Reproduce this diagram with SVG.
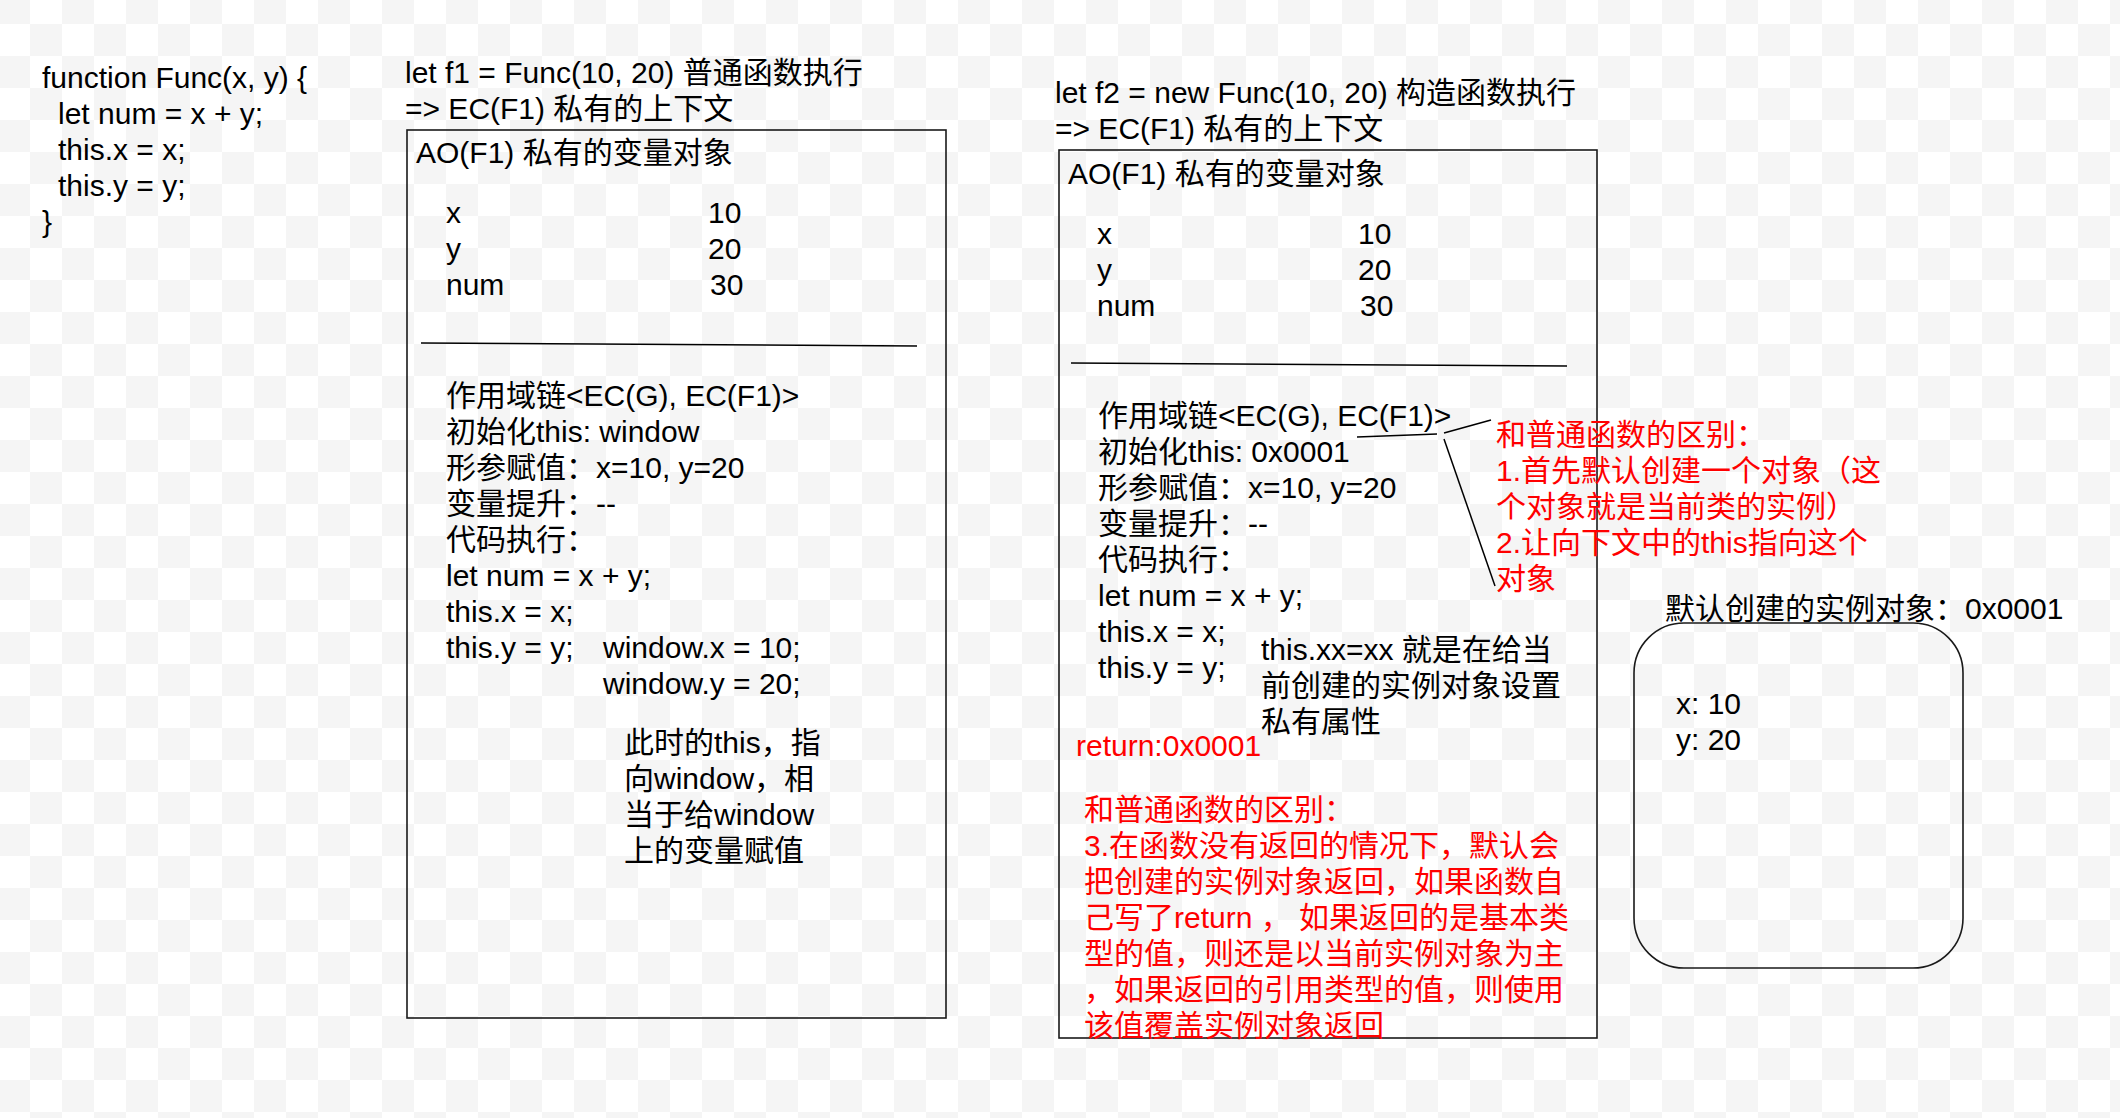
<svg xmlns="http://www.w3.org/2000/svg" width="2120" height="1118" viewBox="0 0 2120 1118">
<style>
  text { font-family: "Liberation Sans", "Noto Sans CJK SC", sans-serif; font-size: 30px; fill: #000; }
  .red { fill: #ff0000; }
  .box { fill: none; stroke: #1a1a1a; stroke-width: 1.6; }
  .ln { fill: none; stroke: #000; stroke-width: 1.5; }
</style>
<defs>
  <pattern id="chk" x="30" y="24" width="64" height="64" patternUnits="userSpaceOnUse">
    <rect width="64" height="64" fill="#ffffff"/>
    <rect width="32" height="32" fill="#f5f5f5"/>
    <rect x="32" y="32" width="32" height="32" fill="#f5f5f5"/>
  </pattern>
</defs>
<rect x="0" y="0" width="2120" height="1118" fill="url(#chk)"/>

<g id="code">
  <text x="42" y="88">function Func(x, y) {</text>
  <text x="58" y="124">let num = x + y;</text>
  <text x="58" y="160">this.x = x;</text>
  <text x="58" y="196">this.y = y;</text>
  <text x="42" y="232">}</text>
</g>

<g id="f1-title">
  <text x="405" y="83">let f1 = Func(10, 20) 普通函数执行</text>
  <text x="405" y="119">=&gt; EC(F1) 私有的上下文</text>
</g>

<g id="f1-box">
  <rect class="box" x="407" y="130" width="539" height="888"/>
  <text x="416" y="163">AO(F1) 私有的变量对象</text>
  <text x="446" y="223">x</text><text x="708" y="223">10</text>
  <text x="446" y="259">y</text><text x="708" y="259">20</text>
  <text x="446" y="295">num</text><text x="710" y="295">30</text>
  <line class="ln" x1="421" y1="343" x2="917" y2="346"/>
  <text x="446" y="406">作用域链&lt;EC(G), EC(F1)&gt;</text>
  <text x="446" y="442">初始化this: window</text>
  <text x="446" y="478">形参赋值：x=10, y=20</text>
  <text x="446" y="514">变量提升：--</text>
  <text x="446" y="550">代码执行：</text>
  <text x="446" y="586">let num = x + y;</text>
  <text x="446" y="622">this.x = x;</text>
  <text x="446" y="658">this.y = y;</text>
  <text x="603" y="658">window.x = 10;</text>
  <text x="603" y="694">window.y = 20;</text>
  <text x="624" y="753">此时的this，指</text>
  <text x="624" y="789">向window，相</text>
  <text x="624" y="825">当于给window</text>
  <text x="624" y="861">上的变量赋值</text>
</g>

<g id="f2-title">
  <text x="1055" y="103">let f2 = new Func(10, 20) 构造函数执行</text>
  <text x="1055" y="139">=&gt; EC(F1) 私有的上下文</text>
</g>

<g id="f2-box">
  <rect class="box" x="1059" y="150" width="538" height="888"/>
  <text x="1068" y="184">AO(F1) 私有的变量对象</text>
  <text x="1097" y="244">x</text><text x="1358" y="244">10</text>
  <text x="1097" y="280">y</text><text x="1358" y="280">20</text>
  <text x="1097" y="316">num</text><text x="1360" y="316">30</text>
  <line class="ln" x1="1071" y1="363" x2="1567" y2="366"/>
  <text x="1098" y="426">作用域链&lt;EC(G), EC(F1)&gt;</text>
  <text x="1098" y="462">初始化this: 0x0001</text>
  <text x="1098" y="498">形参赋值：x=10, y=20</text>
  <text x="1098" y="534">变量提升：--</text>
  <text x="1098" y="570">代码执行：</text>
  <text x="1098" y="606">let num = x + y;</text>
  <text x="1098" y="642">this.x = x;</text>
  <text x="1098" y="678">this.y = y;</text>
  <text x="1261" y="660">this.xx=xx 就是在给当</text>
  <text x="1261" y="696">前创建的实例对象设置</text>
  <text x="1261" y="732">私有属性</text>
  <text class="red" x="1076" y="756">return:0x0001</text>
  <text class="red" x="1084" y="820">和普通函数的区别：</text>
  <text class="red" x="1084" y="856">3.在函数没有返回的情况下，默认会</text>
  <text class="red" x="1084" y="892">把创建的实例对象返回，如果函数自</text>
  <text class="red" x="1084" y="928">己写了return ， 如果返回的是基本类</text>
  <text class="red" x="1084" y="964">型的值，则还是以当前实例对象为主</text>
  <text class="red" x="1084" y="1000">，如果返回的引用类型的值，则使用</text>
  <text class="red" x="1084" y="1036">该值覆盖实例对象返回</text>
</g>

<g id="annotation">
  <text class="red" x="1496" y="445">和普通函数的区别：</text>
  <text class="red" x="1496" y="481">1.首先默认创建一个对象（这</text>
  <text class="red" x="1496" y="517">个对象就是当前类的实例）</text>
  <text class="red" x="1496" y="553">2.让向下文中的this指向这个</text>
  <text class="red" x="1496" y="589">对象</text>
</g>

<g id="instance">
  <text x="1665" y="619">默认创建的实例对象：0x0001</text>
  <rect class="box" x="1634" y="623" width="329" height="345" rx="50" ry="50"/>
  <text x="1676" y="714">x: 10</text>
  <text x="1676" y="750">y: 20</text>
</g>

<g id="connectors">
  <line class="ln" x1="1357" y1="437" x2="1437" y2="434"/>
  <line class="ln" x1="1444" y1="433" x2="1491" y2="420"/>
  <line class="ln" x1="1444" y1="439" x2="1495" y2="586"/>
</g>
</svg>
